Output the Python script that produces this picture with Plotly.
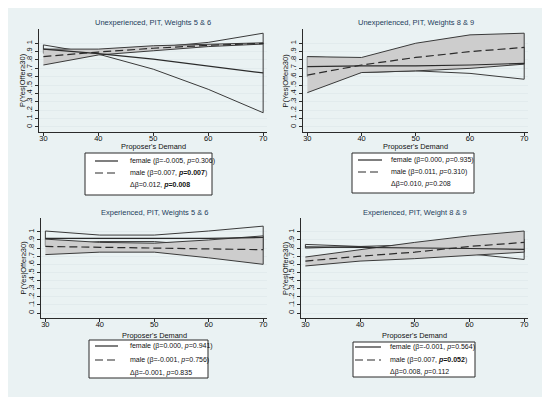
import plotly.graph_objects as go

# proposer's demand (x axis)
demand = [30, 40, 50, 60, 70]

# panel titles
titles = ["Unexperienced, PIT, Weights 5 & 6", "Unexperienced, PIT, Weights 8 & 9",
          "Experienced, PIT, Weights 5 & 6", "Experienced, PIT, Weight 8 & 9"]

# P(Yes|Offer>=30), one set per panel
# female: mean line + CI band edges
female_mean = [[0.93, 0.875, 0.81, 0.73, 0.645],
               [0.72, 0.73, 0.73, 0.74, 0.76],
               [0.92, 0.92, 0.92, 0.92, 0.93],
               [0.815, 0.81, 0.80, 0.795, 0.785]]
female_lo = [[0.98, 0.87, 0.69, 0.45, 0.17],
             [0.60, 0.65, 0.67, 0.64, 0.57],
             [0.83, 0.88, 0.88, 0.83, 0.79],
             [0.845, 0.82, 0.78, 0.73, 0.66]]
female_hi = [[0.88, 0.88, 0.95, 1.01, 1.12],
             [0.84, 0.81, 0.79, 0.84, 0.95],
             [1.01, 0.96, 0.96, 1.01, 1.07],
             [0.80, 0.82, 0.84, 0.87, 0.91]]
# male: mean line + CI band edges
male_mean = [[0.84, 0.895, 0.94, 0.975, 0.998],
             [0.62, 0.74, 0.83, 0.90, 0.95],
             [0.82, 0.81, 0.80, 0.79, 0.78],
             [0.64, 0.70, 0.75, 0.82, 0.87]]
male_lo = [[0.74, 0.86, 0.91, 0.96, 0.99],
           [0.41, 0.65, 0.67, 0.70, 0.75],
           [0.72, 0.75, 0.75, 0.68, 0.60],
           [0.58, 0.64, 0.67, 0.71, 0.75]]
male_hi = [[0.93, 0.93, 0.97, 0.99, 1.005],
           [0.84, 0.83, 1.00, 1.10, 1.12],
           [0.91, 0.87, 0.86, 0.90, 0.95],
           [0.69, 0.78, 0.87, 0.95, 1.01]]

# legend texts
female_labels = ["female (β=-0.005, <i>p</i>=0.306)", "female (β=0.000, <i>p</i>=0.935)",
                 "female (β=0.000, <i>p</i>=0.941)", "female (β=-0.001, <i>p</i>=0.564)"]
male_labels = ["male (β=0.007, <b><i>p</i>=0.007</b>)", "male (β=0.011, <i>p</i>=0.310)",
               "male (β=-0.001, <i>p</i>=0.756)", "male (β=0.007, <b><i>p</i>=0.052</b>)"]
delta_labels = ["Δβ=0.012, <b><i>p</i>=0.008</b>", "Δβ=0.010, <i>p</i>=0.208",
                "Δβ=-0.001, <i>p</i>=0.835", "Δβ=0.008, <i>p</i>=0.112"]

y_ticks = [i / 10 for i in range(11)]
y_ticktext = ["0", ".1", ".2", ".3", ".4", ".5", ".6", ".7", ".8", ".9", "1"]

W, H = 550, 402
OFF = 8  # page body margin, layout below is in page pixels
FONT = "Liberation Sans"
INK = "#2b2b2b"
GREY = "#cdcdcd"
BLUEBG = "#eaf2f3"


def px(x):
    return (x - OFF) / W


def py(y):
    return 1 - (y - OFF) / H


# plot boxes in page pixels: left, right, top, bottom
boxes = [(39, 267, 29, 132), (303, 528, 29, 132), (41, 267, 218, 318), (301, 528, 218, 318)]
# axis title positions: y-title x, x-title y
ytitle_x = [22.5, 285, 22.5, 285]
xtitle_y = [147, 147, 335, 335]
# legend layout: box l, r, t, b, sample l, r, text x, row ys
legends = [(85, 212, 153, 195, 95, 118, 128, (161, 173, 185)),
           (352, 474, 153, 193, 358, 382, 389, (160, 172, 184)),
           (89, 208, 340, 378, 95, 118, 128, (346, 360, 373)),
           (353, 475, 342, 377, 355, 381, 388, (347, 360, 372))]

fig = go.Figure()
shapes = [dict(type="rect", xref="paper", yref="paper", x0=px(5), x1=px(543),
               y0=py(397), y1=py(5), fillcolor=BLUEBG, line=dict(width=0), layer="below")]
annotations = []
small = dict(family=FONT, size=7.5, color="#111")

for i in range(4):
    sfx = "" if i == 0 else str(i + 1)
    xa, ya = "x" + sfx, "y" + sfx

    # female CI band outline (closed), male CI band filled grey
    fig.add_trace(go.Scatter(x=demand + demand[::-1] + demand[:1],
                             y=female_hi[i] + female_lo[i][::-1] + female_hi[i][:1],
                             xaxis=xa, yaxis=ya, mode="lines",
                             line=dict(color="#3a3a3a", width=1),
                             showlegend=False, hoverinfo="skip"))
    fig.add_trace(go.Scatter(x=demand + demand[::-1], y=male_hi[i] + male_lo[i][::-1],
                             xaxis=xa, yaxis=ya, mode="lines", fill="toself",
                             fillcolor=GREY, line=dict(color="#3a3a3a", width=1),
                             showlegend=False, hoverinfo="skip"))
    fig.add_trace(go.Scatter(x=demand, y=female_mean[i], xaxis=xa, yaxis=ya, mode="lines",
                             line=dict(color=INK, width=1.2), showlegend=False))
    fig.add_trace(go.Scatter(x=demand, y=male_mean[i], xaxis=xa, yaxis=ya, mode="lines",
                             line=dict(color=INK, width=1.2, dash="8px,4px"), showlegend=False))

    l, r, t, b = boxes[i]
    axis_common = dict(showline=True, linecolor=INK, linewidth=1, ticks="outside",
                       ticklen=3, tickcolor=INK, zeroline=False, tickfont=small)
    fig.layout["xaxis" + sfx] = dict(
        axis_common, domain=[px(l), px(r)], anchor=ya, range=[29.2, 70.7],
        tickvals=demand, showgrid=False, ticklabelstandoff=-4)
    fig.layout["yaxis" + sfx] = dict(
        axis_common, domain=[py(b), py(t)], anchor=xa, range=[-0.06, 1.17],
        tickvals=y_ticks, ticktext=y_ticktext, tickangle=-90,
        showgrid=True, gridcolor="#e2ebed", gridwidth=1)

    annotations.append(dict(text=titles[i], xref="paper", yref="paper",
                            x=px((l + r) / 2), y=py(t - 6), xanchor="center", yanchor="middle",
                            showarrow=False, font=dict(family=FONT, size=7.5, color="#1e3d5c")))
    annotations.append(dict(text="Proposer's Demand", xref="paper", yref="paper",
                            x=px((l + r) / 2), y=py(xtitle_y[i]), xanchor="center",
                            yanchor="middle", showarrow=False,
                            font=dict(family=FONT, size=7.4, color="#111")))
    annotations.append(dict(text="P(Yes|Offer≥30)", xref="paper", yref="paper",
                            x=px(ytitle_x[i]), y=py((t + b) / 2), xanchor="center",
                            yanchor="middle", textangle=-90, showarrow=False, font=small))

    # legend box
    bl, br, bt, bb, sl, sr, tx, rows = legends[i]
    shapes.append(dict(type="rect", xref="paper", yref="paper", x0=px(bl), x1=px(br),
                       y0=py(bb), y1=py(bt), fillcolor="white", line=dict(color=INK, width=1)))
    shapes.append(dict(type="line", xref="paper", yref="paper", x0=px(sl), x1=px(sr),
                       y0=py(rows[0]), y1=py(rows[0]), line=dict(color=INK, width=1.2)))
    shapes.append(dict(type="line", xref="paper", yref="paper", x0=px(sl), x1=px(sr),
                       y0=py(rows[1]), y1=py(rows[1]),
                       line=dict(color=INK, width=1.2, dash="8px,4px")))
    for txt, ry in zip([female_labels[i], male_labels[i], delta_labels[i]], rows):
        annotations.append(dict(text=txt, xref="paper", yref="paper", x=px(tx), y=py(ry),
                                xanchor="left", yanchor="middle", showarrow=False,
                                font=dict(family=FONT, size=7, color="#111")))

fig.update_layout(width=W, height=H, margin=dict(l=0, r=0, t=0, b=0),
                  paper_bgcolor="white", plot_bgcolor="white",
                  shapes=shapes, annotations=annotations, showlegend=False)

fig.write_html("out.html")
